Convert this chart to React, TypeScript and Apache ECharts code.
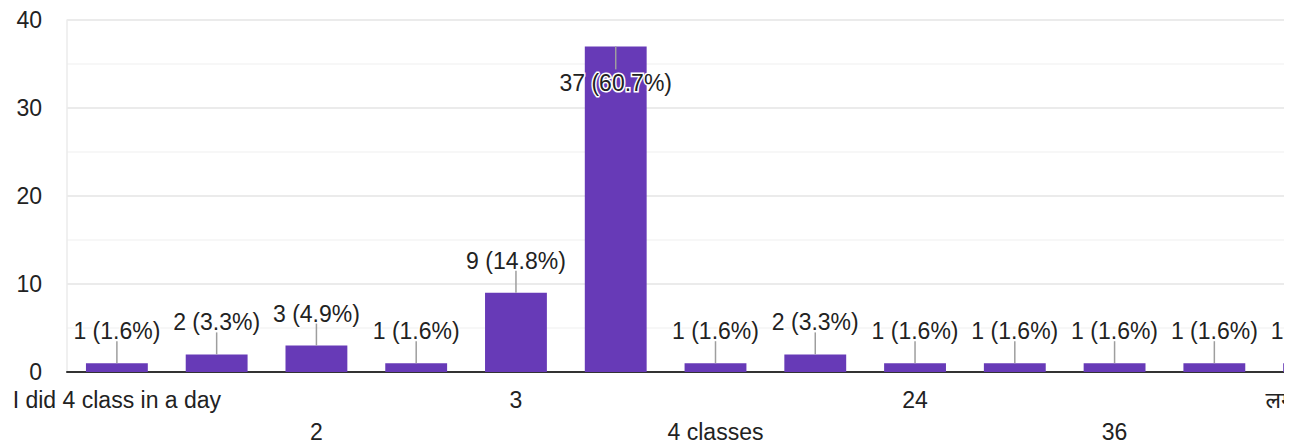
import React, { useEffect, useRef } from "react";
import * as echarts from "echarts";

const categories: string[] = [
  "I did 4 class in a day",
  "1",
  "2",
  "2 classes",
  "3",
  "4",
  "4 classes",
  "5",
  "24",
  "3 classes",
  "36",
  "6",
  "लगभग 3-4",
];
const counts: number[] = [1, 2, 3, 1, 9, 37, 1, 2, 1, 1, 1, 1, 1];
const yTicks: number[] = [0, 10, 20, 30, 40];

const FONT = "'Liberation Sans', Arial, 'Noto Sans', sans-serif";

export default function App() {
  const ref = useRef<HTMLDivElement>(null);
  useEffect(() => {
    if (!ref.current) return;
    const chart = echarts.init(ref.current, null, { renderer: "svg" });
    const total = counts.reduce((a, b) => a + b, 0);
    const maxV = Math.max(...counts);
    const barData = counts.map((v) => {
      const item: any = { value: v };
      if (v === maxV) {
        item.label = { position: "insideTop", distance: 24 };
      }
      return item;
    });
    chart.setOption({
      animation: false,
      grid: {
        left: 67,
        right: 36,
        top: 20,
        bottom: 73,
        containLabel: false,
        outerBoundsMode: "none",
      },
      xAxis: {
        type: "category",
        data: categories,
        axisTick: { show: false },
        axisLine: { show: true, lineStyle: { color: "#333", width: 2 } },
        axisLabel: {
          interval: 1,
          margin: 12,
          fontFamily: FONT,
          fontSize: 23,
          color: "#222",
          lineHeight: 32,
          formatter: (value: string, index: number) =>
            index % 4 === 2 ? "\n" + value : value,
        },
      },
      yAxis: {
        type: "value",
        min: yTicks[0],
        max: yTicks[yTicks.length - 1],
        interval: 10,
        axisTick: { show: false },
        axisLine: { show: true, lineStyle: { color: "#ebebeb", width: 1.5 } },
        axisLabel: {
          margin: 25,
          fontFamily: FONT,
          fontSize: 23,
          color: "#222",
        },
        splitLine: { show: true, lineStyle: { color: "#ebebeb", width: 2 } },
        minorTick: { show: false, splitNumber: 2 },
        minorSplitLine: { show: true, lineStyle: { color: "#f4f4f4", width: 1.5 } },
      },
      series: [
        {
          type: "bar",
          data: barData,
          barWidth: "62%",
          itemStyle: { color: "#673AB7" },
          z: 2,
          label: {
            show: true,
            position: "top",
            distance: 19,
            fontFamily: FONT,
            fontSize: 23,
            lineHeight: 26,
            color: "#222",
            textBorderColor: "#fff",
            textBorderWidth: 3,
            formatter: (p: any) =>
              `${p.value} (${((p.value / total) * 100).toFixed(1)}%)`,
          },
        },
        {
          type: "custom",
          z: 3,
          silent: true,
          data: counts.map((v, i) => [i, v]),
          renderItem: (params: any, api: any) => {
            const v = api.value(1);
            const p = api.coord([api.value(0), v]);
            const down = v === maxV;
            return {
              type: "line",
              shape: {
                x1: p[0],
                y1: p[1],
                x2: p[0],
                y2: down ? p[1] + 23 : p[1] - 22,
              },
              style: { stroke: "#9e9e9e", lineWidth: 1.5 },
            };
          },
        },
      ],
    });
    return () => chart.dispose();
  }, []);
  return (
    <div
      style={{
        position: "absolute",
        left: 0,
        top: 0,
        width: 1284,
        height: 445,
        overflow: "hidden",
        background: "#fff",
      }}
    >
      <div ref={ref} style={{ width: 1400, height: 445 }} />
    </div>
  );
}
